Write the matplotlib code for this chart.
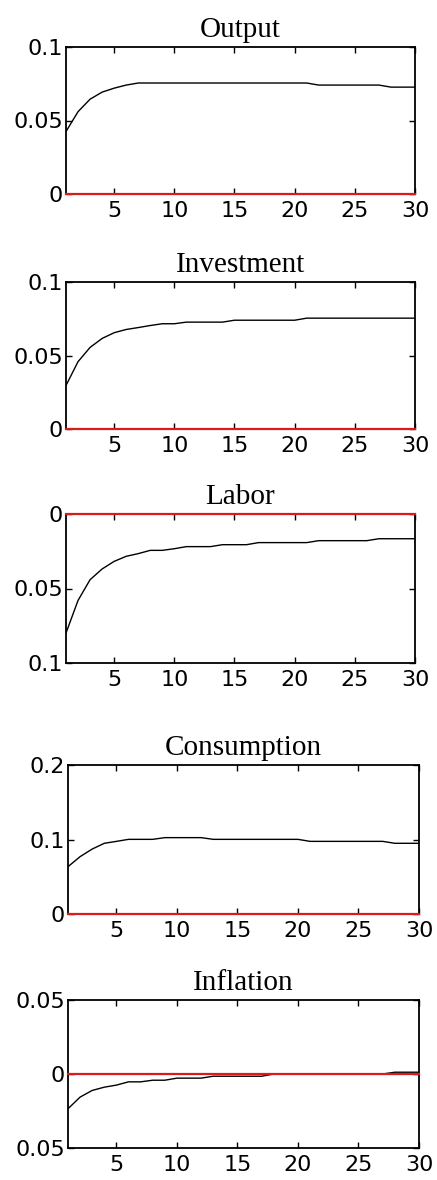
import numpy as np
import matplotlib
matplotlib.use('Agg')
import matplotlib.pyplot as plt

# impulse responses, periods 1..30
periods = np.arange(1, 31)

output = [0.0425, 0.056, 0.0645, 0.0693, 0.072, 0.0741] + [0.0755] * 15 + [0.0741] * 6 + [0.0727] * 3
investment = [0.0296, 0.0458, 0.0555, 0.0616, 0.0655, 0.0677, 0.069, 0.0704, 0.0716, 0.0716] \
    + [0.0727] * 4 + [0.074] * 6 + [0.0754] * 10
labor = [-0.0799, -0.058, -0.0441, -0.0369, -0.0318, -0.0284, -0.0266, -0.0244, -0.0244, -0.0233] \
    + [-0.0219] * 3 + [-0.0206] * 3 + [-0.0192] * 5 + [-0.0179] * 5 + [-0.0166] * 4
consumption = [0.0635, 0.077, 0.0872, 0.0949, 0.0975] + [0.1002] * 3 + [0.1025] * 4 \
    + [0.1002] * 8 + [0.0975] * 7 + [0.0949] * 3
inflation = [-0.0235, -0.0156, -0.0111, -0.0089, -0.0075, -0.0053, -0.0053, -0.0042, -0.0042] \
    + [-0.0028] * 3 + [-0.0015] * 5 + [0.0] * 10 + [0.0012] * 3

titles = ['Output', 'Investment', 'Labor', 'Consumption', 'Inflation']
series = [output, investment, labor, consumption, inflation]
ylims = [(0, 0.1), (0, 0.1), (-0.1, 0), (0, 0.2), (-0.05, 0.05)]
yticks = [[0, 0.05, 0.1], [0, 0.05, 0.1], [-0.1, -0.05, 0], [0, 0.1, 0.2], [-0.05, 0, 0.05]]
# labels as printed in the figure (minus signs were lost)
ylabels = [['0', '0.05', '0.1'], ['0', '0.05', '0.1'], ['0.1', '0.05', '0'],
           ['0', '0.1', '0.2'], ['0.05', '0', '0.05']]
xticks = [5, 10, 15, 20, 25, 30]

W, H = 437, 1180
boxes = [(66, 47, 415, 194), (66, 282, 415, 429), (66, 514, 415, 663),
         (68, 765, 419, 914), (68, 1000, 419, 1148)]

fig = plt.figure(figsize=(W / 100, H / 100), dpi=100)

for i in range(5):
    l, t, r, b = boxes[i]
    ax = fig.add_axes([l / W, 1 - b / H, (r - l) / W, (b - t) / H])
    ax.plot(periods, series[i], color='black', lw=1.0)
    ax.axhline(0, color='#d81c1c', lw=1.6, clip_on=False, zorder=5)
    ax.set_xlim(1, 30)
    ax.set_ylim(*ylims[i])
    ax.set_xticks(xticks)
    ax.set_xticklabels([str(x) for x in xticks], fontsize=16)
    ax.set_yticks(yticks[i])
    ax.set_yticklabels(ylabels[i], fontsize=16)
    ax.tick_params(direction='in', top=True, right=True, length=4, width=1)
    ax.tick_params(axis='x', pad=5)
    ax.tick_params(axis='y', pad=2)
    for s in ax.spines.values():
        s.set_linewidth(1.3)
    ax.set_title(titles[i], family='Liberation Serif', fontsize=21, pad=7.5)

fig.savefig('out.png', dpi=100)
